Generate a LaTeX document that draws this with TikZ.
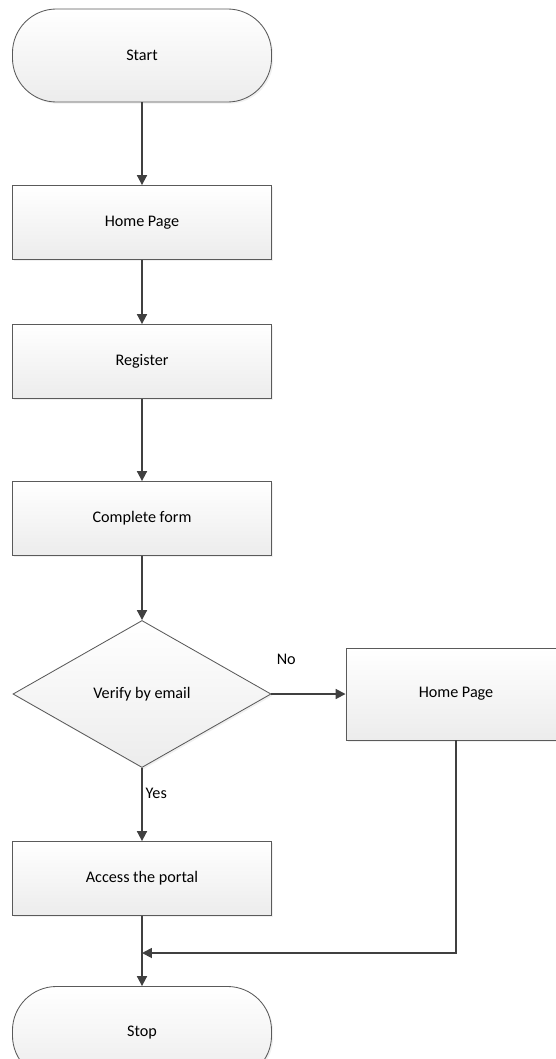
\documentclass[tikz,border=0pt]{standalone}
\usepackage{fontspec}
\setmainfont{Carlito}
\usetikzlibrary{shapes.geometric, arrows.meta, shadows}

\definecolor{linegray}{HTML}{404040}
\definecolor{edgegray}{HTML}{5A5A5A}
\definecolor{fillgray}{HTML}{ECECEC}

\begin{document}
\begin{tikzpicture}
            [x=0.025cm, y=-0.025cm, >={Triangle[length=7pt,width=7pt]}, semithick,
             box/.style={draw=edgegray, line width=0.6pt, top color=white, bottom color=fillgray,
               drop shadow={shadow xshift=1.2pt, shadow yshift=-1.2pt, opacity=0.12},
               minimum width=6.475cm, minimum height=1.85cm, inner sep=2pt,
               font=\fontsize{11.5}{14}\selectfont},
             terminal/.style={box, rounded corners=1.1cm, minimum height=2.325cm},
             decision/.style={box, diamond, minimum width=6.45cm, minimum height=3.675cm, inner sep=0pt},
             flow/.style={->, color=linegray, line width=1.3pt},
             lbl/.style={text=black, font=\fontsize{11.5}{14}\selectfont}]
            \useasboundingbox (0, 0) rectangle (555, 1059);

            \node[terminal] (start) at (142, 55.5) {Start};
            \node[box] (home) at (142, 222.5) {Home Page};
            \node[box] (register) at (142, 361.5) {Register};
            \node[box] (form) at (142, 518.5) {Complete form};
            \node[decision] (verify) at (142, 694) {Verify by email};
            \node[box, minimum width=5.5cm, minimum height=2.3cm] (home2) at (456, 694) {Home Page};
            \node[box] (access) at (142, 878.5) {Access the portal};
            \node[terminal] (stop) at (142, 1033) {Stop};
            \coordinate (join) at (142, 953);

            \path [flow] (start) edge (home);
            \path [flow] (home) edge (register);
            \path [flow] (register) edge (form);
            \path [flow] (form) edge (verify);
            \path [flow] (verify) edge node[lbl, pos=0.2, above=0.6cm] {No} (home2);
            \path [flow] (verify) edge node[lbl, pos=0.35, right, inner sep=2pt] {Yes} (access);
            \path [flow] (access) edge (stop);
            \draw [flow] (home2.south) |- (join);
        \end{tikzpicture}
\end{document}
